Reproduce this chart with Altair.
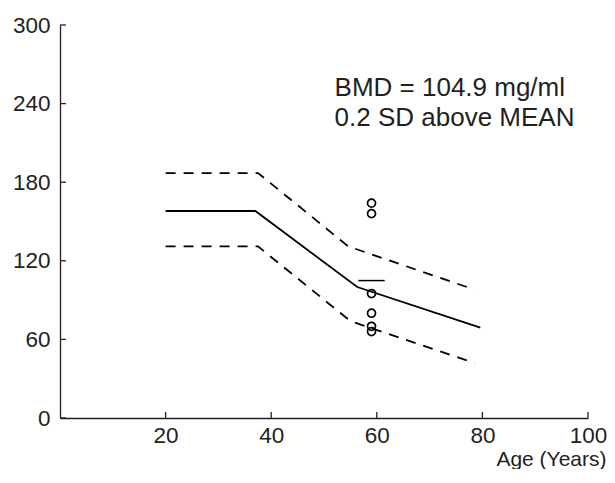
import altair as alt
import pandas as pd

# Reference curve (mean) and +/- SD curves, BMD (mg/ml) vs age (years)
mean_age = [20, 37, 56.3, 79.6]
mean_bmd = [158, 158, 100, 69]
upper_age = [20, 37.5, 54.6, 78.5]
upper_bmd = [187, 187, 131, 98]
lower_age = [20, 37.5, 55.0, 78.5]
lower_bmd = [131, 131, 74, 42]

# Measured points
patient_age = [59, 59, 59, 59, 59, 59]
patient_bmd = [164, 156, 95, 80, 70, 66]

# Patient BMD marker
bar_age = [56.5, 61.5]
bar_bmd = 104.9

x_ticks = [20, 40, 60, 80, 100]
y_ticks = [0, 60, 120, 180, 240, 300]

annot_text = ["BMD = 104.9 mg/ml", "0.2 SD above MEAN"]
annot_age = [52, 52]
annot_bmd = [252, 229]

FONT = "Liberation Sans"
INK = "#231f20"
W, H = 528, 393

xs = alt.Scale(domain=[0, 100], nice=False, zero=False)
ys = alt.Scale(domain=[0, 300], nice=False, zero=False)

mean_df = pd.DataFrame({"age": mean_age, "bmd": mean_bmd})
up_df = pd.DataFrame({"age": upper_age, "bmd": upper_bmd})
lo_df = pd.DataFrame({"age": lower_age, "bmd": lower_bmd})
pt_df = pd.DataFrame({"age": patient_age, "bmd": patient_bmd})
bar_df = pd.DataFrame({"age": [bar_age[0]], "age2": [bar_age[1]], "bmd": [bar_bmd]})
xt_df = pd.DataFrame({"age": x_ticks})
yt_df = pd.DataFrame({"bmd": y_ticks})
an_df = pd.DataFrame({"t": annot_text, "age": annot_age, "bmd": annot_bmd})

common = dict(ticks=False, grid=False, labelFont=FONT, labelFontSize=22.5,
              labelColor=INK, domainColor=INK, domainWidth=1.3,
              labelFlush=False, labelOverlap=False)
x_axis = alt.Axis(values=x_ticks, title="Age (Years)", labelPadding=6,
                  titleX=546, titleY=47, titleAlign="right",
                  titleBaseline="alphabetic", titleFontSize=21, titleFontWeight="normal",
                  titleFont=FONT, titleColor=INK, **common)
y_axis = alt.Axis(values=y_ticks, title=None, labelPadding=10, **common)

X = alt.X("age:Q", scale=xs, axis=x_axis)
Y = alt.Y("bmd:Q", scale=ys, axis=y_axis)

mean_line = alt.Chart(mean_df).mark_line(color="black", strokeWidth=1.8).encode(x=X, y=Y)
up_line = alt.Chart(up_df).mark_line(color="black", strokeWidth=1.8,
                                     strokeDash=[10, 8]).encode(x=X, y=Y)
lo_line = alt.Chart(lo_df).mark_line(color="black", strokeWidth=1.8,
                                     strokeDash=[10, 8]).encode(x=X, y=Y)
points = alt.Chart(pt_df).mark_point(shape="circle", filled=False, color="black",
                                     size=64, strokeWidth=1.7, opacity=1).encode(x=X, y=Y)
bar = alt.Chart(bar_df).mark_rule(color="black", strokeWidth=1.5).encode(
    x=X, x2="age2:Q", y=Y)
xt = alt.Chart(xt_df).mark_rule(color=INK, strokeWidth=1.3).encode(
    x=X, y=alt.value(H), y2=alt.value(H - 6))
yt = alt.Chart(yt_df).mark_rule(color=INK, strokeWidth=1.3).encode(
    y=Y, x=alt.value(0), x2=alt.value(6))
annot = alt.Chart(an_df).mark_text(align="left", baseline="middle", font=FONT,
                                   fontSize=26, color=INK).encode(x=X, y=Y, text="t:N")

chart = alt.layer(mean_line, up_line, lo_line, points, bar, xt, yt, annot).properties(
    width=W, height=H,
    background="white",
    autosize=alt.AutoSizeParams(type="none"),
    padding={"left": 52, "top": 17, "right": 19, "bottom": 51},
).configure_view(stroke=None)

chart.save("out.html", embed_options={"renderer": "svg", "actions": False})
